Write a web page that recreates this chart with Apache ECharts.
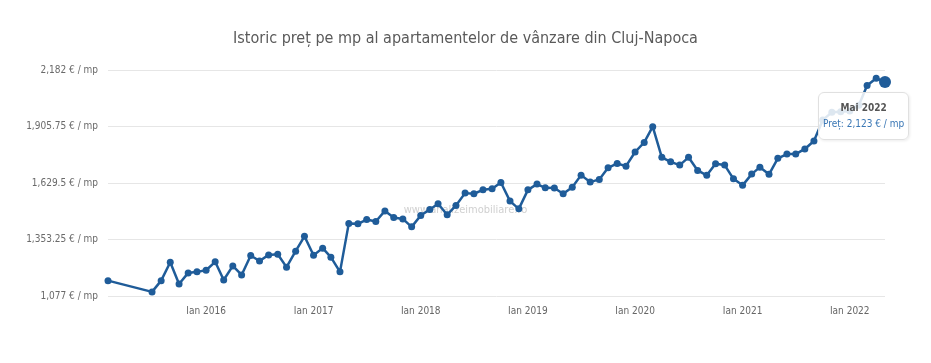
<!DOCTYPE html>
<html>
<head>
<meta charset="utf-8">
<script src="https://cdn.jsdelivr.net/npm/echarts@6/dist/echarts.min.js"></script>
<style>
html,body{margin:0;padding:0;background:#fff;}
#chart{width:931px;height:363px;}
</style>
</head>
<body>
<div id="chart"></div>
<script>
var titleText = 'Istoric preț pe mp al apartamentelor de vânzare din Cluj-Napoca';
var watermarkText = 'www.analizeimobiliare.ro';
var monthNames = ['Ian','Feb','Mar','Apr','Mai','Iun','Iul','Aug','Sep','Oct','Noi','Dec'];
var yTicks = [1077, 1353.25, 1629.5, 1905.75, 2182];

var dates = [
  '2015-02-01','2015-07-01','2015-08-01','2015-09-01','2015-10-01','2015-11-01','2015-12-01',
  '2016-01-01','2016-02-01','2016-03-01','2016-04-01','2016-05-01','2016-06-01','2016-07-01','2016-08-01','2016-09-01','2016-10-01','2016-11-01','2016-12-01',
  '2017-01-01','2017-02-01','2017-03-01','2017-04-01','2017-05-01','2017-06-01','2017-07-01','2017-08-01','2017-09-01','2017-10-01','2017-11-01','2017-12-01',
  '2018-01-01','2018-02-01','2018-03-01','2018-04-01','2018-05-01','2018-06-01','2018-07-01','2018-08-01','2018-09-01','2018-10-01','2018-11-01','2018-12-01',
  '2019-01-01','2019-02-01','2019-03-01','2019-04-01','2019-05-01','2019-06-01','2019-07-01','2019-08-01','2019-09-01','2019-10-01','2019-11-01','2019-12-01',
  '2020-01-01','2020-02-01','2020-03-01','2020-04-01','2020-05-01','2020-06-01','2020-07-01','2020-08-01','2020-09-01','2020-10-01','2020-11-01','2020-12-01',
  '2021-01-01','2021-02-01','2021-03-01','2021-04-01','2021-05-01','2021-06-01','2021-07-01','2021-08-01','2021-09-01','2021-10-01','2021-11-01','2021-12-01',
  '2022-01-01','2022-02-01','2022-03-01','2022-04-01','2022-05-01'
];
var prices = [
  1152, 1097, 1152, 1242, 1136, 1190, 1195,
  1203, 1244, 1155, 1224, 1180, 1275, 1248, 1278, 1281, 1218, 1296, 1369,
  1276, 1311, 1267, 1195, 1432, 1430, 1451, 1441, 1493, 1461, 1454, 1415,
  1471, 1500, 1528, 1474, 1520, 1580, 1577, 1596, 1601, 1632, 1541, 1503,
  1596, 1624, 1606, 1605, 1577, 1609, 1668, 1634, 1647, 1704, 1725, 1712,
  1781, 1828, 1905, 1755, 1733, 1717, 1755, 1691, 1667, 1724, 1717, 1650,
  1618, 1673, 1707, 1672, 1750, 1771, 1771, 1796, 1835, 1938, 1975, 1978,
  1982, 2010, 2106, 2142, 2123
];

var FONT = '"Liberation Sans Narrow", "DejaVu Sans Condensed", "Open Sans", sans-serif';
var LINE = '#1f5c99';

function fmtNum(v) {
  return Number(v).toLocaleString('en-US', {maximumFractionDigits: 2});
}
function fmtMonth(d) {
  var p = d.split('-');
  return monthNames[parseInt(p[1], 10) - 1] + ' ' + p[0];
}

var lastIdx = prices.length - 1;
var seriesData = dates.map(function (d, i) {
  var item = { value: [d, prices[i]] };
  if (i === lastIdx) { item.symbolSize = 12; }
  return item;
});

var chart = echarts.init(document.getElementById('chart'));
var cssFont = FONT.replace(/"/g, "'");
chart.setOption({
  animation: false,
  backgroundColor: '#fff',
  title: {
    text: titleText,
    left: 'center',
    top: 26,
    textStyle: { fontFamily: FONT, fontSize: 16, fontWeight: 'normal', color: '#5a5a5a' }
  },
  graphic: [{
    type: 'text',
    left: 'center',
    top: 205,
    z: 0,
    silent: true,
    style: { text: watermarkText, fill: '#d0d0d0', font: '11px ' + FONT }
  }],
  grid: { left: 108, right: 46, top: 70, bottom: 67, containLabel: false },
  tooltip: {
    trigger: 'item',
    alwaysShowContent: true,
    transitionDuration: 0,
    backgroundColor: 'rgba(255,255,255,0.85)',
    borderColor: '#e0e0e0',
    borderWidth: 1,
    borderRadius: 6,
    padding: [7, 4, 7, 4],
    extraCssText: 'box-shadow:1px 1px 3px rgba(0,0,0,0.08);line-height:16px;',
    position: function (point) { return [point[0] - 67, point[1] + 10]; },
    formatter: function (p) {
      var d = dates[p.dataIndex];
      return '<div style="text-align:center;font-weight:bold;color:#555;font-size:10px;font-family:' + cssFont + '">' + fmtMonth(d) + '</div>' +
             '<div style="color:#3a77b5;font-size:10px;font-family:' + cssFont + '">Preț: ' + fmtNum(prices[p.dataIndex]) + ' € / mp</div>';
    }
  },
  xAxis: {
    type: 'time',
    min: dates[0],
    max: dates[lastIdx],
    minInterval: 365 * 86400000,
    maxInterval: 366 * 86400000,
    axisLine: { show: false },
    axisTick: { show: false },
    splitLine: { show: false },
    axisLabel: {
      margin: 10,
      color: '#666',
      fontFamily: FONT,
      fontSize: 10,
      showMinLabel: false,
      showMaxLabel: false,
      hideOverlap: false,
      formatter: function (v) {
        var d = new Date(v);
        if (d.getMonth() === 0 && d.getDate() === 1) { return monthNames[0] + ' ' + d.getFullYear(); }
        return '';
      }
    }
  },
  yAxis: {
    type: 'value',
    min: yTicks[0],
    max: yTicks[yTicks.length - 1],
    interval: yTicks[1] - yTicks[0],
    axisLine: { show: false },
    axisTick: { show: false },
    splitLine: { lineStyle: { color: '#e6e6e6', width: 1 } },
    axisLabel: {
      margin: 10,
      color: '#6a6a6a',
      fontFamily: FONT,
      fontSize: 10,
      formatter: function (v) { return fmtNum(v) + ' € / mp'; }
    }
  },
  series: [{
    type: 'line',
    data: seriesData,
    symbol: 'circle',
    symbolSize: 7,
    showAllSymbol: true,
    lineStyle: { color: LINE, width: 2.5 },
    itemStyle: { color: LINE },
    emphasis: { disabled: true },
    z: 3
  }]
});
chart.dispatchAction({ type: 'showTip', seriesIndex: 0, dataIndex: lastIdx });
</script>
</body>
</html>
